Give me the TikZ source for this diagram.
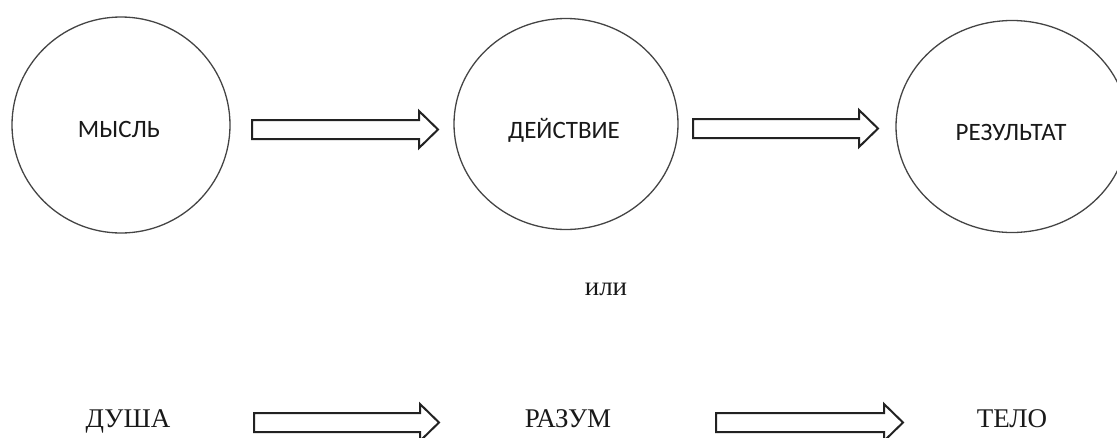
\documentclass[tikz,border=0pt]{standalone}
\usepackage{fontspec}
\setmainfont{Liberation Serif}
\newfontfamily\carlito{Carlito}
\usetikzlibrary{shapes.geometric}
\definecolor{circ}{HTML}{444444}
\definecolor{arr}{HTML}{222222}
\tikzset{
  bubble/.style={ellipse, draw=circ, line width=1.3pt, inner sep=0pt},
  toplabel/.style={anchor=base, inner sep=0pt, font=\carlito\fontsize{25}{25}\selectfont, text=black!90},
  botlabel/.style={anchor=base, inner sep=0pt, font=\fontsize{27}{27}\selectfont, text=black!90},
  arrowline/.style={draw=arr, line width=2pt, line join=miter, fill=white},
  pics/barrow/.style={code={
    \draw[arrowline] (0,-9.5) -- (#1-19,-9.5) -- (#1-19,-18.5) -- (#1,0)
      -- (#1-19,18.5) -- (#1-19,9.5) -- (0,9.5) -- cycle;}}
}
\begin{document}
\begin{tikzpicture}[x=1pt,y=-1pt]
\useasboundingbox (0,0) rectangle (1117,437);
% top row
\node[bubble, minimum width=218pt, minimum height=216pt] (c1) at (121,125) {};
\node[bubble, minimum width=224pt, minimum height=211pt] (c2) at (566,124) {};
\node[bubble, minimum width=232pt, minimum height=212pt] (c3) at (1012,126.5) {};
\node[toplabel] (t1) at (119,137) {МЫСЛЬ};
\node[toplabel] (t2) at (564,138) {ДЕЙСТВИЕ};
\node[toplabel] (t3) at (1011,140) {РЕЗУЛЬТАТ};
\pic (a1) at (252,129.5) {barrow=186};
\pic (a2) at (693,128.5) {barrow=185};
% middle
\node[botlabel] (ili) at (606,295) {или};
% bottom row
\node[botlabel] (b1) at (128,427) {ДУША};
\node[botlabel] (b2) at (568,427) {РАЗУМ};
\node[botlabel] (b3) at (1012,427) {ТЕЛО};
\pic (a3) at (254,422.5) {barrow=185};
\pic (a4) at (716,422.5) {barrow=187};
\end{tikzpicture}
\end{document}
